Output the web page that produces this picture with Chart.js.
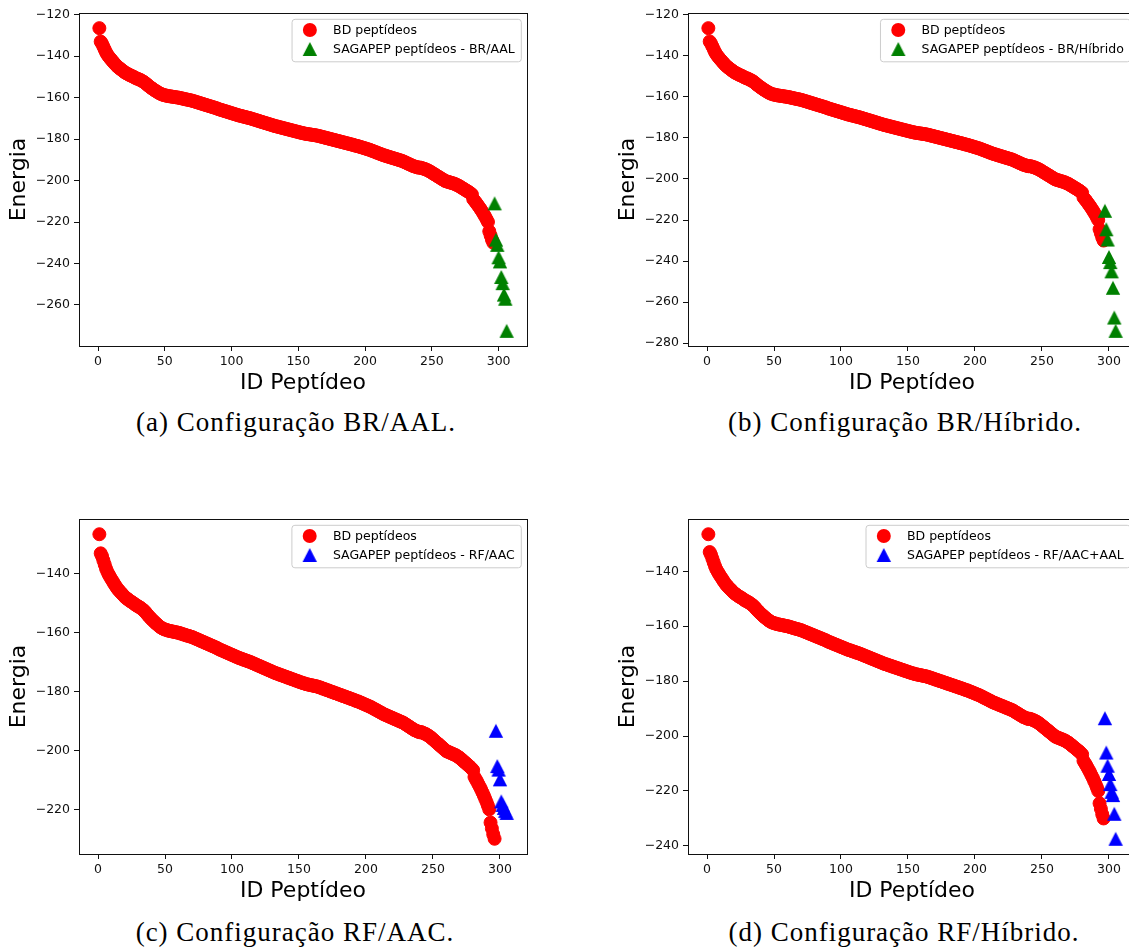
<!DOCTYPE html>
<html>
<head>
<meta charset="utf-8">
<script src="https://cdn.jsdelivr.net/npm/chart.js@4.4.0/dist/chart.umd.min.js"></script>
<style>
  body { margin: 0; background: #fff; width: 1129px; height: 949px; overflow: hidden; position: relative; }
  .panel { position: absolute; }
  .cap {
    position: absolute; white-space: nowrap; transform: translateX(-50%);
    font-family: "Liberation Serif", serif; font-size: 27px; line-height: 26px;
    letter-spacing: 1px; color: #000;
  }
</style>
</head>
<body>

<div class="panel" style="left:0px;top:0px"><canvas id="chartA"></canvas></div>
<div class="panel" style="left:609px;top:0px"><canvas id="chartB"></canvas></div>
<div class="panel" style="left:0px;top:506px"><canvas id="chartC"></canvas></div>
<div class="panel" style="left:609px;top:506px"><canvas id="chartD"></canvas></div>

<div class="cap" style="left:296px;top:409px">(a) Configuração BR/AAL.</div>
<div class="cap" style="left:905px;top:409px">(b) Configuração BR/Híbrido.</div>
<div class="cap" style="left:295px;top:919px">(c) Configuração RF/AAC.</div>
<div class="cap" style="left:904px;top:919px">(d) Configuração RF/Híbrido.</div>

<script>
// energy of the peptides in the data base, sorted (ID 1..296)
const bdEnergy = [
  -126.5, -133.0, -134.0, -135.4, -136.8, -138.2, -139.3, -140.2, -141.0, -141.8,
  -142.5, -143.3, -144.0, -144.7, -145.3, -145.8, -146.3, -146.8, -147.3, -147.8,
  -148.2, -148.5, -148.9, -149.2, -149.5, -149.8, -150.1, -150.5, -150.8, -151.0,
  -151.3, -151.6, -152.0, -152.3, -152.8, -153.3, -153.9, -154.4, -154.9, -155.4,
  -155.8, -156.3, -156.7, -157.1, -157.5, -157.9, -158.2, -158.5, -158.7, -158.9,
  -159.0, -159.2, -159.3, -159.4, -159.5, -159.6, -159.7, -159.8, -159.9, -160.0,
  -160.1, -160.3, -160.4, -160.6, -160.7, -160.9, -161.0, -161.1, -161.3, -161.4,
  -161.6, -161.8, -162.0, -162.2, -162.4, -162.6, -162.8, -163.0, -163.2, -163.4,
  -163.6, -163.8, -164.0, -164.2, -164.4, -164.6, -164.8, -165.0, -165.2, -165.5,
  -165.7, -165.9, -166.1, -166.3, -166.5, -166.7, -166.9, -167.1, -167.3, -167.5,
  -167.7, -167.9, -168.1, -168.3, -168.5, -168.7, -168.8, -169.0, -169.2, -169.3,
  -169.5, -169.7, -169.8, -170.0, -170.2, -170.4, -170.6, -170.8, -171.0, -171.2,
  -171.4, -171.6, -171.8, -172.0, -172.2, -172.4, -172.6, -172.8, -173.0, -173.2,
  -173.4, -173.6, -173.8, -173.9, -174.1, -174.3, -174.4, -174.6, -174.8, -174.9,
  -175.1, -175.3, -175.4, -175.6, -175.8, -175.9, -176.1, -176.3, -176.4, -176.6,
  -176.8, -176.9, -177.1, -177.2, -177.4, -177.5, -177.6, -177.7, -177.8, -177.9,
  -178.0, -178.1, -178.2, -178.3, -178.5, -178.6, -178.8, -179.0, -179.1, -179.3,
  -179.5, -179.6, -179.8, -180.0, -180.1, -180.3, -180.5, -180.6, -180.8, -181.0,
  -181.1, -181.3, -181.5, -181.6, -181.8, -182.0, -182.1, -182.3, -182.5, -182.6,
  -182.8, -183.0, -183.2, -183.3, -183.5, -183.7, -183.9, -184.1, -184.3, -184.5,
  -184.7, -184.9, -185.1, -185.3, -185.6, -185.8, -186.1, -186.3, -186.6, -186.8,
  -187.1, -187.3, -187.6, -187.8, -188.0, -188.2, -188.4, -188.6, -188.8, -189.0,
  -189.2, -189.4, -189.6, -189.8, -190.0, -190.2, -190.4, -190.6, -190.9, -191.2,
  -191.5, -191.8, -192.1, -192.4, -192.7, -193.0, -193.2, -193.4, -193.6, -193.8,
  -193.7, -193.9, -194.1, -194.3, -194.5, -194.8, -195.1, -195.4, -195.8, -196.2,
  -196.6, -197.0, -197.4, -197.8, -198.2, -198.6, -199.0, -199.4, -199.8, -200.2,
  -200.4, -200.6, -200.8, -201.0, -201.2, -201.4, -201.6, -201.9, -202.2, -202.5,
  -202.9, -203.3, -203.7, -204.1, -204.5, -204.9, -205.3, -205.7, -206.2, -206.7,
  -209.0, -209.8, -210.6, -211.5, -212.4, -213.3, -214.3, -215.3, -216.4, -217.5,
  -218.7, -220.0, -224.5, -226.5, -228.5, -230.0
];

// SAGAPEP peptides, placed after the data base IDs
const brAal     = [-211.0, -228.5, -231.0, -237.0, -239.0, -246.5, -249.5, -255.0, -257.0, -272.5];
const brHibrido = [-215.5, -224.5, -229.5, -238.0, -240.5, -245.0, -253.0, -267.5, -274.0];
const rfAac     = [-193.3, -205.3, -206.5, -209.8, -217.3, -218.5, -219.5, -220.5, -221.2];
const rfHibrido = [-193.5, -206.0, -210.8, -213.8, -217.5, -220.3, -221.5, -228.3, -237.4];

const xTicks = [0, 50, 100, 150, 200, 250, 300];

const FONT = '"DejaVu Sans", sans-serif';

// matplotlib-like triangle marker
function makeTriangle(color) {
  const c = document.createElement('canvas');
  c.width = 16; c.height = 16;
  const g = c.getContext('2d');
  g.fillStyle = color;
  g.beginPath();
  g.moveTo(8, 1);
  g.lineTo(0.8, 15);
  g.lineTo(15.2, 15);
  g.closePath();
  g.fill();
  return c;
}

function limits(vals) {
  const lo = Math.min(...vals), hi = Math.max(...vals);
  const m = (hi - lo) * 0.05;
  return [lo - m, hi + m];
}

function minusFmt(v) {
  return v < 0 ? '\u2212' + Math.abs(v) : String(v);
}

// frame around the plot area (all four spines)
const framePlugin = {
  id: 'frame',
  afterDatasetsDraw(chart) {
    const { ctx, chartArea: a } = chart;
    ctx.save();
    ctx.strokeStyle = '#111';
    ctx.lineWidth = 1;
    ctx.strokeRect(Math.round(a.left) + 0.5, Math.round(a.top) + 0.5,
      Math.round(a.right - a.left), Math.round(a.bottom - a.top));
    ctx.restore();
  }
};

// legend drawn inside the axes, upper right
const legendPlugin = {
  id: 'innerLegend',
  afterDraw(chart, args, opts) {
    const { ctx, chartArea: a } = chart;
    ctx.save();
    ctx.font = '12.5px ' + FONT;
    const tw = Math.max(...opts.items.map(it => ctx.measureText(it.label).width));
    const w = 41 + tw + 6.5, h = 42.5;
    const x0 = a.right - 5.7 - w, y0 = a.top + 6.3;
    const r = 3;
    ctx.beginPath();
    ctx.moveTo(x0 + r, y0);
    ctx.lineTo(x0 + w - r, y0);
    ctx.arcTo(x0 + w, y0, x0 + w, y0 + r, r);
    ctx.lineTo(x0 + w, y0 + h - r);
    ctx.arcTo(x0 + w, y0 + h, x0 + w - r, y0 + h, r);
    ctx.lineTo(x0 + r, y0 + h);
    ctx.arcTo(x0, y0 + h, x0, y0 + h - r, r);
    ctx.lineTo(x0, y0 + r);
    ctx.arcTo(x0, y0, x0 + r, y0, r);
    ctx.closePath();
    ctx.fillStyle = 'rgba(255,255,255,0.8)';
    ctx.fill();
    ctx.strokeStyle = '#cccccc';
    ctx.lineWidth = 1;
    ctx.stroke();

    opts.items.forEach((it, i) => {
      const cy = y0 + 10.7 + i * 19;
      const cx = x0 + 17.8;
      if (it.kind === 'circle') {
        ctx.fillStyle = it.color;
        ctx.beginPath();
        ctx.arc(cx, cy, 7, 0, Math.PI * 2);
        ctx.fill();
      } else {
        ctx.drawImage(it.image, cx - it.image.width / 2, cy - it.image.height / 2);
      }
      ctx.fillStyle = '#000';
      ctx.textBaseline = 'middle';
      ctx.textAlign = 'left';
      ctx.fillText(it.label, x0 + 41, cy + 0.5);
    });
    ctx.restore();
  }
};

function makeChart(canvasId, areaH, triVals, triColor, triLabel) {
  const canvas = document.getElementById(canvasId);
  const W = 79 + 448 + 8;
  const H = 13 + areaH + 54;
  canvas.width = W; canvas.height = H;
  canvas.style.width = W + 'px'; canvas.style.height = H + 'px';

  const bdPoints = bdEnergy.map((v, i) => ({ x: i + 1, y: v }));
  const triPoints = triVals.map((v, i) => ({ x: bdEnergy.length + 1 + i, y: v }));
  const ids = bdPoints.map(p => p.x).concat(triPoints.map(p => p.x));
  const [xMin, xMax] = limits(ids);
  const [yMin, yMax] = limits(bdEnergy.concat(triVals));
  const triImg = makeTriangle(triColor);

  const tickFont = { family: FONT, size: 12.5 };
  const titleFont = { family: FONT, size: 22 };

  return new Chart(canvas, {
    type: 'scatter',
    data: {
      datasets: [
        {
          label: 'BD peptídeos',
          data: bdPoints,
          backgroundColor: 'red',
          borderColor: 'red',
          borderWidth: 1,
          pointRadius: 6.5,
          order: 1
        },
        {
          label: triLabel,
          data: triPoints,
          pointStyle: triImg,
          backgroundColor: triColor,
          order: 0
        }
      ]
    },
    options: {
      responsive: false,
      animation: false,
      layout: { padding: { top: 13, right: 8, left: 0, bottom: 0 } },
      plugins: {
        legend: { display: false },
        tooltip: { enabled: false },
        innerLegend: {
          items: [
            { kind: 'circle', color: 'red', label: 'BD peptídeos' },
            { kind: 'tri', image: triImg, label: triLabel }
          ]
        }
      },
      scales: {
        x: {
          type: 'linear',
          min: xMin, max: xMax,
          afterBuildTicks: s => { s.ticks = xTicks.map(v => ({ value: v })); },
          afterFit: s => { s.height = 54; },
          ticks: { font: tickFont, color: '#111', padding: 3, maxRotation: 0, autoSkip: false, callback: minusFmt },
          grid: { display: true, drawOnChartArea: false, drawTicks: true, tickLength: 5, tickColor: '#111' },
          border: { display: false },
          title: { display: true, text: 'ID Peptídeo', font: titleFont, color: '#000', padding: { top: 0, bottom: 4 } }
        },
        y: {
          type: 'linear',
          min: yMin, max: yMax,
          afterFit: s => { s.width = 79; },
          ticks: { stepSize: 20, includeBounds: false, font: tickFont, color: '#111', padding: 4, callback: minusFmt },
          grid: { display: true, drawOnChartArea: false, drawTicks: true, tickLength: 5, tickColor: '#111' },
          border: { display: false },
          title: { display: true, text: 'Energia', font: titleFont, color: '#000', padding: { top: 6, bottom: 0 } }
        }
      }
    },
    plugins: [framePlugin, legendPlugin]
  });
}

makeChart('chartA', 333, brAal, 'green', 'SAGAPEP peptídeos - BR/AAL');
makeChart('chartB', 333, brHibrido, 'green', 'SAGAPEP peptídeos - BR/Híbrido');
makeChart('chartC', 335, rfAac, 'blue', 'SAGAPEP peptídeos - RF/AAC');
makeChart('chartD', 335, rfHibrido, 'blue', 'SAGAPEP peptídeos - RF/AAC+AAL');
</script>
</body>
</html>
